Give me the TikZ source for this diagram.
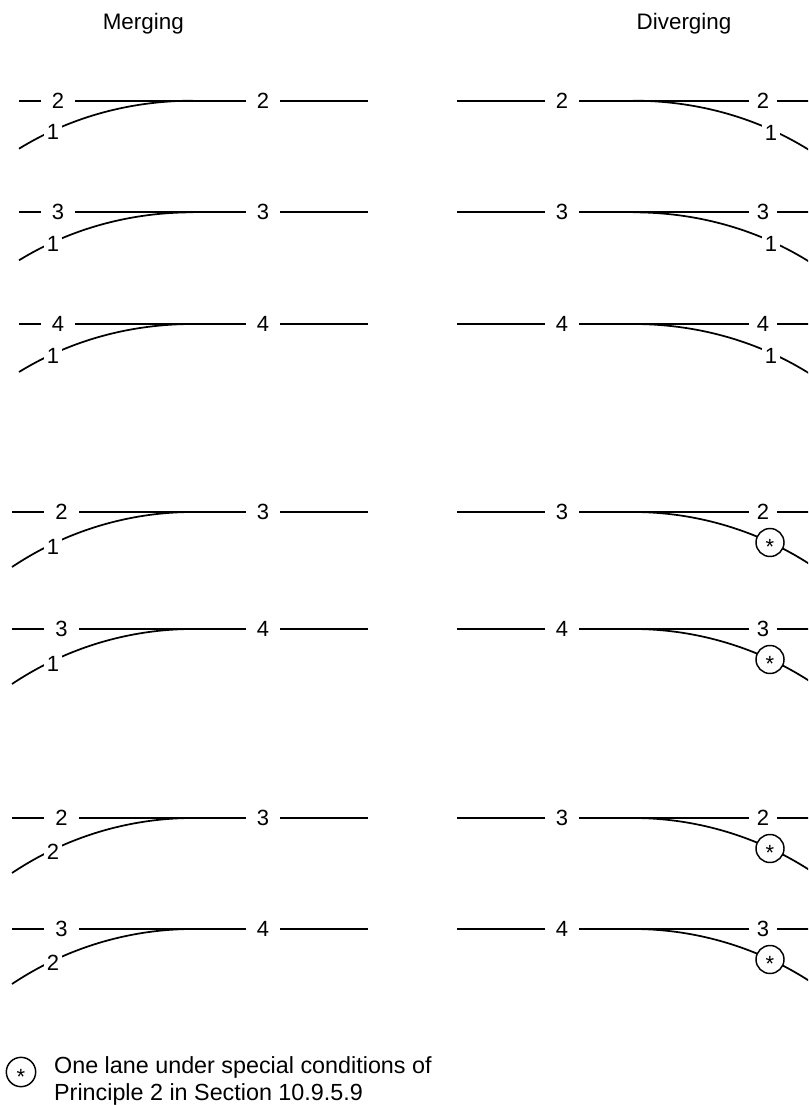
\documentclass[tikz,border=0pt]{standalone}
\usepackage{fontspec}
\setmainfont{Liberation Sans}
\newcommand{\labfont}{\fontsize{16.5}{19}\selectfont}
\begin{document}
\begin{tikzpicture}[x=0.75pt,y=-0.75pt,line width=1.3pt,
  labA/.style={fill=white,inner xsep=8.3pt,inner ysep=1pt,font=\labfont},
  labB/.style={fill=white,inner xsep=6.2pt,inner ysep=1pt,font=\labfont},
  lowlab/.style={fill=white,inner xsep=2.5pt,inner ysep=0.8pt,font=\labfont},
  starc/.style={circle,draw,fill=white,minimum size=21pt,inner sep=0pt,line width=1.1pt},
  ast/.style={inner sep=0pt,font=\labfont},
  ttl/.style={anchor=base,inner sep=0pt,font=\fontsize{16.8}{20}\selectfont},
  legtext/.style={anchor=base west,inner sep=0pt,font=\fontsize{17.5}{21}\selectfont}]
\useasboundingbox (0,0) rectangle (808,1105);
\clip (0,0) rectangle (808,1105);

% titles
\node[ttl] (tm) at (143.3,29.3) {Merging};
\node[ttl] (td) at (684,29.3) {Diverging};

% merging
\foreach \n/\y/\a/\b/\c/\xs/\dy/\px/\pd/\qx/\lx/\by in {
  1/100.7/2/1/2/19/48/71.5/15.8/131.4/58/31.5,
  2/212.3/3/1/3/19/48/71.5/15.8/131.4/58/31.5,
  3/324/4/1/4/19/48/71.5/15.8/131.4/58/31.5,
  4/512/2/1/3/12/55/65.5/19.2/128.6/61.5/35,
  5/629/3/1/4/12/55/65.5/19.2/128.6/61.5/35,
  6/818/2/2/3/12/55/65.5/19.2/128.6/61.5/34,
  7/929/3/2/4/12/55/65.5/19.2/128.6/61.5/34}{
  \draw (\xs,\y) -- (368,\y);
  \draw (\xs,\y+\dy) .. controls (\px,\y+\pd) and (\qx,\y) .. (193,\y);
  \node[labA] (mL\n) at (\lx,\y) {\a};
  \node[labA] (mR\n) at (263,\y) {\c};
  \node[lowlab] (mB\n) at (53,\y+\by) {\b};
}

% diverging, plain
\foreach \n/\y/\a in {1/100.7/2,2/212.3/3,3/324/4}{
  \draw (457,\y) -- (815,\y);
  \draw (633,\y) .. controls (694.6,\y) and (754.5,\y+15.8) .. (807,\y+48);
  \draw (807,\y+48) -- (830,\y+62);
  \node[labA] (dL\n) at (562,\y) {\a};
  \node[labB] (dR\n) at (763,\y) {\a};
  \node[lowlab] (dB\n) at (771,\y+32) {1};
}

% diverging, special
\foreach \n/\y/\a/\c in {4/512/3/2,5/629/4/3,6/818/3/2,7/929/4/3}{
  \draw (457,\y) -- (815,\y);
  \draw (633,\y) .. controls (697.4,\y) and (760.5,\y+19.2) .. (814,\y+55);
  \node[labA] (dL\n) at (562,\y) {\a};
  \node[labB] (dR\n) at (763,\y) {\c};
  \node[starc] (dS\n) at (770,\y+30.5) {};
  \node[ast] (dA\n) at ([yshift=-3.4pt]dS\n.center) {*};
}

% legend
\node[starc,minimum size=22pt] (lc) at (21,1072) {};
\node[ast] (la) at ([yshift=-3.4pt]lc.center) {*};
\node[legtext] (l1) at (53.3,1073.5) {One lane under special conditions of};
\node[legtext] (l2) at (53.3,1100.5) {Principle 2 in Section 10.9.5.9};
\end{tikzpicture}
\end{document}
